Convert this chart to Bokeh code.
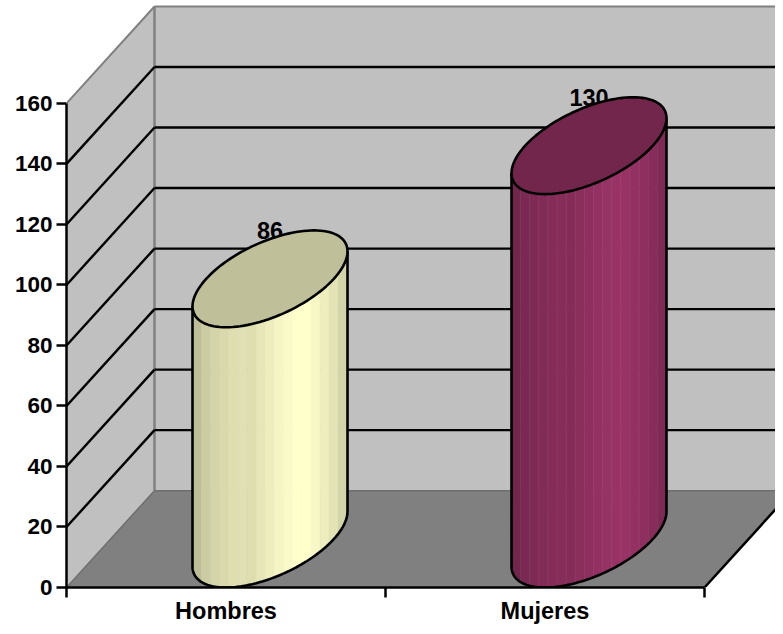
import numpy as np
from bokeh.plotting import figure
from bokeh.models import FixedTicker
from bokeh.core.properties import value
from bokeh.embed import file_html
from bokeh.resources import INLINE

# ---- data ----
categories = ["Hombres", "Mujeres"]
cat_pos = [0.5, 1.5]
counts = [86, 130]
y_ticks = [0, 20, 40, 60, 80, 100, 120, 140, 160]
bar_colors = [(255, 255, 204), (153, 51, 102)]
strip_shades = [0.74, 0.80, 0.83, 0.85, 0.87, 0.88, 0.87, 0.90, 0.93, 0.96,
                0.98, 1.00, 1.00, 0.97, 0.93, 0.89, 0.83]
top_shade = 0.75

# ---- layout of the pseudo-3D box (in data units) ----
PX_X, PX_Y = 319.0, 485.0 / 160.0
FRAME_W, FRAME_H = 709, 588
DX, DY = 88.0 / PX_X, 97.0 / PX_Y    # depth shift front plane -> back wall
HW = 63.8 / PX_X                     # half width of a cylinder's base
FONT = "Liberation Sans"
FS = "22.5px"

p = figure(width=775, height=626, output_backend="svg", toolbar_location=None,
           x_range=(0, FRAME_W / PX_X), y_range=(0, FRAME_H / PX_Y),
           min_border_left=66, min_border_right=0, min_border_top=0,
           min_border_bottom=38, background_fill_color="white",
           border_fill_color="white", outline_line_color=None)
p.grid.visible = False

xax, yax = p.xaxis[0], p.yaxis[0]
yax.ticker = FixedTicker(ticks=y_ticks)
yax.bounds = (y_ticks[0], y_ticks[-1])
xax.ticker = FixedTicker(ticks=cat_pos, minor_ticks=[0, 1, 2])
xax.bounds = (0, 2)
xax.major_label_overrides = {c: n for c, n in zip(cat_pos, categories)}
for ax in (xax, yax):
    ax.axis_line_color = "black"
    ax.axis_line_width = 2.5
    ax.major_tick_line_color = "black"
    ax.major_tick_line_width = 2.5
    ax.minor_tick_line_color = "black"
    ax.minor_tick_line_width = 2.5
    ax.major_tick_in = 0
    ax.minor_tick_in = 0
    ax.major_label_text_font = FONT
    ax.major_label_text_font_style = "bold"
    ax.major_label_text_font_size = FS
    ax.major_label_text_color = "black"
yax.major_tick_out = 10
yax.minor_tick_out = 0
yax.major_label_standoff = 4
xax.major_tick_out = 0
xax.minor_tick_out = 10
xax.major_label_text_font_size = "23.5px"
xax.major_label_standoff = 0

ymax = y_ticks[-1]

# walls and floor
p.patch([0, DX, DX, 0], [ymax, ymax + DY, DY, 0], fill_color="#C0C0C0", line_color=None)
p.patch([DX, 2 + DX, 2 + DX, DX], [DY, DY, ymax + DY, ymax + DY], fill_color="#C0C0C0", line_color=None)
p.patch([0, DX, 2 + DX, 2], [0, DY, DY, 0], fill_color="#808080", line_color=None)

# wall edges
p.line([0, DX], [ymax, ymax + DY], line_color="#808080", line_width=2)
p.line([DX, DX], [DY, ymax + DY], line_color="#808080", line_width=2.5)
p.line([DX, 2 + DX], [ymax + DY] * 2, line_color="#808080", line_width=2)
p.line([0, DX], [0, DY], line_color="#6E6E6E", line_width=1.5)
p.line([DX, 2 + DX], [DY, DY], line_color="#6E6E6E", line_width=1.5)
p.line([2, 2 + DX], [0, DY], line_color="black", line_width=2.5)

# grid lines on both walls
gt = [t for t in y_ticks if 0 < t < ymax]
p.multi_line([[0, DX] for _ in gt], [[t, t + DY] for t in gt], line_color="black", line_width=2.4)
p.multi_line([[DX, 2 + DX] for _ in gt], [[t + DY] * 2 for t in gt], line_color="black", line_width=2.4)

# value labels (behind the cylinders)
p.text(x=[c + DX / 2 for c in cat_pos], y=[v + DY for v in counts],
       text=[str(v) for v in counts], text_align="center", text_baseline="middle",
       text_font=value(FONT), text_font_style="bold", text_font_size="23.5px", text_color="black")


def rim(c, v, t):
    t = np.asarray(t)
    return (c + DX / 2 + HW * np.cos(t) + DX / 2 * np.sin(t),
            v + DY / 2 + DY / 2 * np.sin(t))


def shade(col, k, lift=0.0):
    r = [min(255, int(round(ch * k + (255 - ch) * lift))) for ch in col]
    return "#%02X%02X%02X" % tuple(r)


T_R = np.arctan2(DX / 2, HW)
for c, v, col in zip(cat_pos, counts, bar_colors):
    n = len(strip_shades)
    edges = np.linspace(0, 1, n + 1)
    xs, ys, fills, lines = [], [], [], []
    for i in range(n):
        f = np.linspace(edges[i], edges[i + 1], 6)
        t = T_R + 2 * np.pi - np.arccos(2 * f - 1)
        x, y = rim(c, 0, t)
        xs.append(list(x) + list(x[::-1]))
        ys.append(list(y) + list((y + v)[::-1]))
        fills.append(shade(col, strip_shades[i]))
        lines.append(shade(col, strip_shades[i], 0.06))
    p.patches(xs, ys, fill_color=fills, line_color=lines, line_width=0.8)

    # outline of the body
    t = np.linspace(T_R + np.pi, T_R + 2 * np.pi, 80)
    x, y = rim(c, 0, t)
    p.line(list(x[:1]) + list(x) + list(x[-1:]),
           [y[0] + v] + list(y) + [y[-1] + v],
           line_color="black", line_width=2.6)

    # top ellipse
    t = np.linspace(0, 2 * np.pi, 121)
    x, y = rim(c, v, t)
    p.patch(x, y, fill_color=shade(col, top_shade), line_color="black", line_width=2.6)

open("out.html", "w").write(file_html(p, INLINE))
